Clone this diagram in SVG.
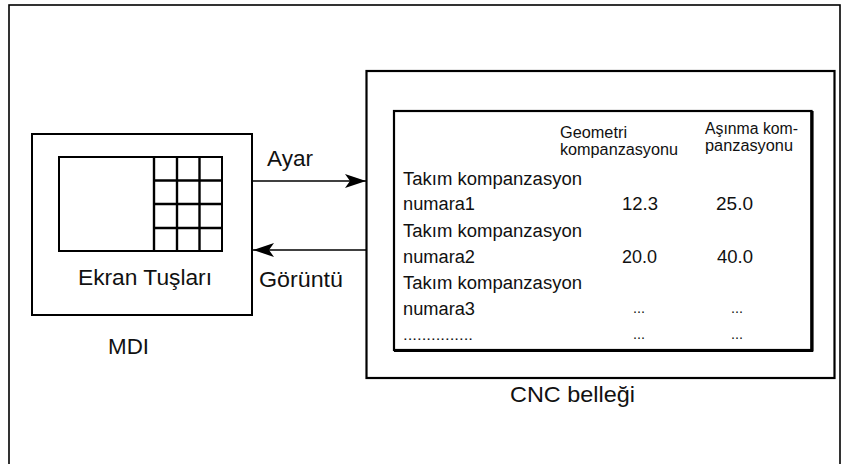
<svg xmlns="http://www.w3.org/2000/svg" width="850" height="464" viewBox="0 0 850 464">
<style>
.b{fill:none;stroke:#000;}
.t{font-family:"Liberation Sans",Arial,sans-serif;fill:#111;}
.l{font-size:22px;}
.r{font-size:18px;}
.h{font-size:16px;}
.d{font-size:14px;}
.c{stroke:#000;stroke-width:1.3;fill:none;}
</style>
<defs>
<marker id="ah" markerUnits="userSpaceOnUse" markerWidth="24" markerHeight="16" viewBox="-22 -8 24 16" refX="0" refY="0" orient="auto">
<path d="M0,0 L-21,-7 L-16,0 L-21,7 Z" fill="#000"/>
</marker>
</defs>
<rect width="850" height="464" fill="#fff"/>
<g id="frame">
<rect class="b" x="9" y="5" width="831" height="470" stroke-width="1.6"/>
</g>
<g id="mdi">
<rect class="b" x="32" y="134" width="220" height="181" stroke-width="2"/>
<rect class="b" x="59" y="157" width="163" height="94" stroke-width="2"/>
<g stroke="#000" stroke-width="2.4">
<line x1="154" y1="157" x2="154" y2="251"/>
<line x1="177" y1="157" x2="177" y2="251"/>
<line x1="199.5" y1="157" x2="199.5" y2="251"/>
<line x1="154" y1="180.5" x2="222" y2="180.5"/>
<line x1="154" y1="204" x2="222" y2="204"/>
<line x1="154" y1="228" x2="222" y2="228"/>
</g>
<text class="t l" x="78" y="285" textLength="134" lengthAdjust="spacingAndGlyphs">Ekran Tuşları</text>
<text class="t l" x="108" y="354" textLength="41" lengthAdjust="spacingAndGlyphs">MDI</text>
</g>
<g id="cnc">
<rect class="b" x="366.5" y="71" width="468" height="307" stroke-width="2.2"/>
<text class="t l" x="510" y="402" textLength="125" lengthAdjust="spacingAndGlyphs">CNC belleği</text>
</g>
<g id="table">
<rect class="b" x="394" y="111" width="417.5" height="239" stroke-width="2.2"/>
<line x1="812" y1="111" x2="812" y2="351.5" stroke="#000" stroke-width="3.2"/>
<line x1="394" y1="350.5" x2="813" y2="350.5" stroke="#000" stroke-width="2.8"/>
<text class="t h" x="560" y="138" textLength="67" lengthAdjust="spacingAndGlyphs">Geometri</text>
<text class="t h" x="560" y="154.5" textLength="118" lengthAdjust="spacingAndGlyphs">kompanzasyonu</text>
<text class="t h" x="705" y="134" textLength="93" lengthAdjust="spacingAndGlyphs">Aşınma kom-</text>
<text class="t h" x="705" y="150.5" textLength="88" lengthAdjust="spacingAndGlyphs">panzasyonu</text>
<text class="t r" x="403" y="185" textLength="179" lengthAdjust="spacingAndGlyphs">Takım kompanzasyon</text>
<text class="t r" x="403" y="210" textLength="72" lengthAdjust="spacingAndGlyphs">numara1</text>
<text class="t r" x="403" y="237" textLength="179" lengthAdjust="spacingAndGlyphs">Takım kompanzasyon</text>
<text class="t r" x="403" y="263" textLength="72" lengthAdjust="spacingAndGlyphs">numara2</text>
<text class="t r" x="403" y="289" textLength="179" lengthAdjust="spacingAndGlyphs">Takım kompanzasyon</text>
<text class="t r" x="403" y="315" textLength="72" lengthAdjust="spacingAndGlyphs">numara3</text>
<text class="t d" x="403" y="340" textLength="70" lengthAdjust="spacingAndGlyphs">...............</text>
<text class="t r" x="622" y="210" textLength="36" lengthAdjust="spacingAndGlyphs">12.3</text>
<text class="t r" x="716" y="210" textLength="37" lengthAdjust="spacingAndGlyphs">25.0</text>
<text class="t r" x="622" y="263" textLength="35" lengthAdjust="spacingAndGlyphs">20.0</text>
<text class="t r" x="717" y="263" textLength="36" lengthAdjust="spacingAndGlyphs">40.0</text>
<text class="t d" x="633" y="313" textLength="12" lengthAdjust="spacingAndGlyphs">...</text>
<text class="t d" x="731" y="313" textLength="12" lengthAdjust="spacingAndGlyphs">...</text>
<text class="t d" x="633" y="339" textLength="12" lengthAdjust="spacingAndGlyphs">...</text>
<text class="t d" x="731" y="339" textLength="12" lengthAdjust="spacingAndGlyphs">...</text>
</g>
<g id="connectors">
<line class="c" x1="253" y1="181" x2="366" y2="181" marker-end="url(#ah)"/>
<line class="c" x1="366" y1="250" x2="253" y2="250" marker-end="url(#ah)"/>
<text class="t l" x="267" y="166" textLength="46" lengthAdjust="spacingAndGlyphs">Ayar</text>
<text class="t l" x="259" y="287" textLength="84" lengthAdjust="spacingAndGlyphs">Görüntü</text>
</g>
</svg>
